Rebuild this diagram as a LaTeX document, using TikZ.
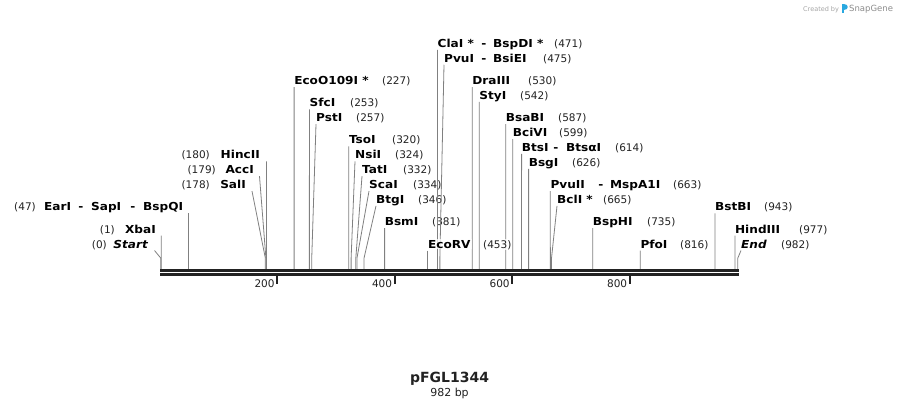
\documentclass[tikz,border=0pt]{standalone}
\usepackage{fontspec}
\setmainfont{DejaVu Sans}
\newfontfamily\namefont{DejaVu Sans}[FakeStretch=1.1]
\definecolor{featc}{RGB}{128,128,128}
\definecolor{bbc}{RGB}{34,34,34}
\definecolor{sgblue}{RGB}{41,168,224}
\tikzset{
  nm/.style={font=\namefont\fontsize{11}{13}\selectfont\bfseries, inner sep=0pt, text=black},
  num/.style={font=\fontsize{10.5}{12}\selectfont, inner sep=0pt, text=bbc},
  feat/.style={draw=featc, line width=0.8pt},
  bbline/.style={draw=bbc},
  tickline/.style={draw=bbc, line width=1.8pt}
}
% right-side label: id, bp, label left x, row k, name, number left x, line start x
\newcommand\rlab[7]{%
  \pgfmathsetmacro\bl{248-7.43*#4}%
  \pgfmathsetmacro\xs{160.7+0.5877*#2}%
  \coordinate (s#1) at (#7,\bl+2.5);
  \coordinate (b#1) at (\xs,258);
  \coordinate (e#1) at (\xs,269);
  \draw[feat] (s#1) -- (b#1) -- (e#1);
  \node[nm, anchor=base west] (n#1) at (#3,\bl) {#5};
  \node[num, anchor=base west] (p#1) at (#6,\bl) {(#2)};
}
% left-side label: id, bp, name right x, row k, name, number right x, line start x
\newcommand\llab[7]{%
  \pgfmathsetmacro\bl{248-7.43*#4}%
  \pgfmathsetmacro\xs{160.7+0.5877*#2}%
  \coordinate (s#1) at (#7,\bl+2.5);
  \coordinate (b#1) at (\xs,258);
  \coordinate (e#1) at (\xs,269);
  \draw[feat] (s#1) -- (b#1) -- (e#1);
  \node[nm, anchor=base east] (n#1) at (#3,\bl) {#5};
  \node[num, anchor=base east] (p#1) at (#6,\bl) {(#2)};
}
\begin{document}
\begin{tikzpicture}[x=1pt,y=-1pt]
\useasboundingbox (0,0) rectangle (899,408);
\fill[white] (0,0) rectangle (899,408);

% left labels
\llab{start}{0}{148}{0}{\itshape Start}{107}{154.5}
\llab{xba}{1}{156}{2}{XbaI}{115}{161.3}
\llab{sal}{178}{246}{8}{SalI}{210}{252}
\llab{acc}{179}{254}{10}{AccI}{216}{259.5}
\llab{hinc}{180}{260}{12}{HincII}{210}{266.5}
% EarI row (multi-part)
\pgfmathsetmacro\blE{248-7.43*5}
\coordinate (sear) at (188.3,\blE+2.5);
\coordinate (eear) at (188.3,269);
\draw[feat] (sear) -- (eear);
\node[num, anchor=base east] (pear) at (36,\blE) {(47)};
\node[nm, anchor=base west] (near) at (44,\blE) {EarI};
\node[nm, anchor=base] (dear1) at (81,\blE) {-};
\node[nm, anchor=base west] (nsap) at (91,\blE) {SapI};
\node[nm, anchor=base] (dear2) at (133,\blE) {-};
\node[nm, anchor=base west] (nbspq) at (143,\blE) {BspQI};

% right labels
\rlab{eco109}{227}{294.1}{22}{EcoO109I *}{382}{294.1}
\rlab{sfc}{253}{309.4}{19}{SfcI}{350}{309.4}
\rlab{pst}{257}{316}{17}{PstI}{356}{316}
\rlab{tso}{320}{348.8}{14}{TsoI}{392}{348.8}
\rlab{nsi}{324}{355}{12}{NsiI}{395}{355}
\rlab{tat}{332}{362}{10}{TatI}{403}{362}
\rlab{sca}{334}{369}{8}{ScaI}{413}{369}
\rlab{btg}{346}{376}{6}{BtgI}{418}{376}
\rlab{bsm}{381}{384.6}{3}{BsmI}{432}{384.6}
\rlab{cla}{471}{437.5}{27}{ClaI *}{554}{437.5}
\rlab{pvu}{475}{444}{25}{PvuI}{543}{444}
\rlab{dra}{530}{472.2}{22}{DraIII}{528}{472.2}
\rlab{sty}{542}{479.2}{20}{StyI}{520}{479.2}
\rlab{bsab}{587}{505.7}{17}{BsaBI}{558}{505.7}
\rlab{bcivi}{599}{512.7}{15}{BciVI}{559}{512.7}
\rlab{bts}{614}{521.6}{13}{BtsI}{615}{521.6}
\rlab{bsg}{626}{528.6}{11}{BsgI}{572}{528.6}
\rlab{pvuii}{663}{550.3}{8}{PvuII}{673}{550.3}
\rlab{bcl}{665}{557}{6}{BclI *}{603}{557}
\rlab{bsph}{735}{592.7}{3}{BspHI}{647}{592.7}
\rlab{pfo}{816}{640.3}{0}{PfoI}{680}{640.3}
\rlab{bstb}{943}{714.9}{5}{BstBI}{764}{714.9}
\rlab{hind}{977}{734.9}{2}{HindIII}{799}{734.9}
\rlab{end}{982}{741}{0}{\itshape End}{781}{741}

% EcoRV (label with light white backing)
\pgfmathsetmacro\blR{248}
\coordinate (secorv) at (426.9,\blR+2.5);
\coordinate (eecorv) at (426.9,269);
\draw[feat] (secorv) -- (eecorv);
\node[nm, anchor=base west, fill=white, fill opacity=0.75, text opacity=1, inner sep=1pt] (necorv) at (426.9,\blR) {EcoRV};
\node[num, anchor=base west, fill=white, fill opacity=0.75, text opacity=1, inner sep=1pt] (pecorv) at (482,\blR) {(453)};

% extra parts of multi-name labels
\pgfmathsetmacro\blC{248-7.43*27}
\node[nm, anchor=base] (dcla) at (484,\blC) {-};
\node[nm, anchor=base west] (nbspd) at (493,\blC) {BspDI *};
\pgfmathsetmacro\blP{248-7.43*25}
\node[nm, anchor=base] (dpvu) at (484,\blP) {-};
\node[nm, anchor=base west] (nbsie) at (493,\blP) {BsiEI};
\pgfmathsetmacro\blB{248-7.43*13}
\node[nm, anchor=base] (dbts) at (556,\blB) {-};
\node[nm, anchor=base west] (nbtsa) at (566,\blB) {BtsαI};
\pgfmathsetmacro\blM{248-7.43*8}
\node[nm, anchor=base] (dmsp) at (601,\blM) {-};
\node[nm, anchor=base west] (nmsp) at (610,\blM) {MspA1I};

% backbone
\coordinate (bbL1) at (160,270.3);
\coordinate (bbR1) at (738.5,270.3);
\coordinate (bbL2) at (160,274.3);
\coordinate (bbR2) at (738.5,274.3);
\draw[bbline, line width=2.6pt] (bbL1) -- (bbR1);
\draw[bbline, line width=2.4pt] (bbL2) -- (bbR2);

% ticks
\foreach \t in {200,400,600,800}{
  \pgfmathsetmacro\tx{159.7+0.5877*\t}
  \coordinate (ta\t) at (\tx,275.5);
  \coordinate (tb\t) at (\tx,283.5);
  \draw[tickline] (ta\t) -- (tb\t);
  \node[num, anchor=base east] (tl\t) at (\tx-2.5,287.5) {\t};
}

% title
\node[font=\fontsize{14}{16}\selectfont\bfseries, anchor=base, inner sep=0pt, text=bbc] (title) at (449.5,382) {pFGL1344};
\node[font=\fontsize{11}{13}\selectfont, anchor=base, inner sep=0pt, text=bbc] (bp) at (449.5,396) {982 bp};

% watermark
\node[font=\fontsize{6.5}{8}\selectfont, anchor=base west, inner sep=0pt, text=black!35] (cby) at (803,11) {Created by};
\fill[sgblue] (842,3.5) rectangle (844.3,13);
\fill[sgblue] (844.3,3.5) .. controls (848.5,3.5) and (848.5,9.5) .. (844.3,9.5) -- cycle;
\node[font=\fontsize{8.5}{10}\selectfont, anchor=base west, inner sep=0pt, text=black!45] (sg) at (849,11.5) {SnapGene};
\end{tikzpicture}
\end{document}
